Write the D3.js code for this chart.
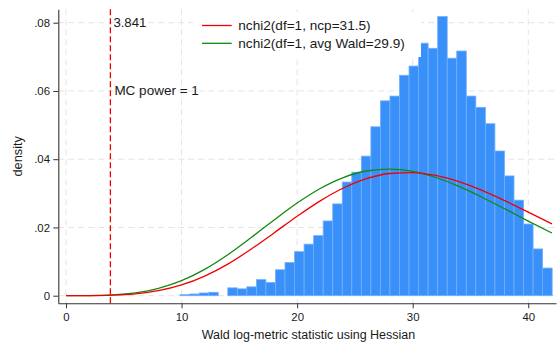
<!DOCTYPE html>
<html>
<head>
<meta charset="utf-8">
<script src="https://cdn.jsdelivr.net/npm/d3@7"></script>
<style>
  body { margin: 0; background: #fff; }
  svg { display: block; }
  text { font-family: "Liberation Sans", Arial, Helvetica, sans-serif; fill: #1a1a1a; }
</style>
</head>
<body>
<svg id="chart" width="560" height="343"></svg>
<script>
// ---- data -------------------------------------------------------------
// Histogram of the Wald log-metric statistic (density scale), equal-width bins
const binStart = 9.87;
const binWidth = 0.8256;
const binDensity = [
  0.0003, 0.0005, 0.0008, 0.0010, 0.0000, 0.0023, 0.0020, 0.0026, 0.0047, 0.0039,
  0.0076, 0.0097, 0.0129, 0.0151, 0.0176, 0.0219, 0.0269, 0.0333, 0.0362, 0.0409,
  0.0495, 0.0571, 0.0585, 0.0646, 0.0673, 0.0740, 0.0725, 0.0818, 0.0696, 0.0717,
  0.0585, 0.0552, 0.0504, 0.0424, 0.0351, 0.0280, 0.0210, 0.0137, 0.0081
];

// Noncentral chi-square densities, df = 1, sampled along the statistic
const curveX = [0, 1, 2, 4, 6, 8, 10, 12, 14, 16, 18, 20, 22, 24, 26, 28, 30, 32, 34, 36, 38, 40, 42.05];
const ncpDensity = [
  0, 0.000005, 0.000021, 0.000147, 0.000547, 0.001463, 0.003135, 0.005728, 0.009264, 0.013589,
  0.018396, 0.023278, 0.027800, 0.031567, 0.034288, 0.035804, 0.036088, 0.035227, 0.033402,
  0.030841, 0.027787, 0.024476, 0.021040
];
const waldDensity = [
  0, 0.000009, 0.000038, 0.000244, 0.000855, 0.002164, 0.004419, 0.007731, 0.012012, 0.016975,
  0.022188, 0.027162, 0.031429, 0.034629, 0.036544, 0.037114, 0.036419, 0.034639, 0.032029,
  0.028860, 0.025392, 0.021855, 0.018360
];
const seriesLabels = ["nchi2(df=1, ncp=31.5)", "nchi2(df=1, avg Wald=29.9)"];

// Critical value of chi2(1) at 5% and the simulated power
const criticalValue = 3.841;
const criticalLabel = "3.841";
const powerLabel = "MC power = 1";

// Axes
const xTicks = [0, 10, 20, 30, 40];
const yTicks = [0, 0.02, 0.04, 0.06, 0.08];
const yTickLabels = ["0", ".02", ".04", ".06", ".08"];
const xTitle = "Wald log-metric statistic using Hessian";
const yTitle = "density";

// ---- layout -----------------------------------------------------------
const svg = d3.select("#chart");
const plot = { left: 58.3, right: 556, top: 9.3, bottom: 303.3 };

const x = d3.scaleLinear().domain([-0.666, 42.4]).range([plot.left, plot.right]);
const y = d3.scaleLinear().domain([-0.00223, 0.08393]).range([plot.bottom, plot.top]);

const gridColor = "#e4e4e4";
const barFill = "#3990f9";
const barStroke = "#72b0fc";
const redColor = "#f00000";
const greenColor = "#0f8a0f";

// ---- grid -------------------------------------------------------------
const grid = svg.append("g");
grid.selectAll("line.h").data(yTicks).join("line")
  .attr("x1", plot.left).attr("x2", plot.right)
  .attr("y1", d => y(d)).attr("y2", d => y(d))
  .attr("stroke", gridColor).attr("stroke-width", 1).attr("stroke-dasharray", "6,4");
grid.selectAll("line.v").data(xTicks).join("line")
  .attr("x1", d => x(d)).attr("x2", d => x(d))
  .attr("y1", plot.top).attr("y2", plot.bottom)
  .attr("stroke", gridColor).attr("stroke-width", 1).attr("stroke-dasharray", "6,4");

// ---- histogram --------------------------------------------------------
const bins = binDensity.map((d, i) => ({
  x0: binStart + i * binWidth,
  x1: binStart + (i + 1) * binWidth,
  density: d
})).filter(b => b.density > 0);

svg.append("g").selectAll("rect").data(bins).join("rect")
  .attr("x", b => x(b.x0))
  .attr("width", b => x(b.x1) - x(b.x0))
  .attr("y", b => y(b.density))
  .attr("height", b => y(0) - y(b.density))
  .attr("fill", barFill)
  .attr("stroke", barStroke)
  .attr("stroke-width", 0.8);

// ---- density curves ---------------------------------------------------
const line = d3.line()
  .x(d => x(d[0]))
  .y(d => y(d[1]))
  .curve(d3.curveMonotoneX);

svg.append("path")
  .datum(curveX.map((v, i) => [v, waldDensity[i]]))
  .attr("d", line).attr("fill", "none")
  .attr("stroke", greenColor).attr("stroke-width", 1.3);
svg.append("path")
  .datum(curveX.map((v, i) => [v, ncpDensity[i]]))
  .attr("d", line).attr("fill", "none")
  .attr("stroke", redColor).attr("stroke-width", 1.3);

// ---- critical value line and annotations ------------------------------
svg.append("line")
  .attr("x1", x(criticalValue)).attr("x2", x(criticalValue))
  .attr("y1", plot.top).attr("y2", plot.bottom)
  .attr("stroke", redColor).attr("stroke-width", 1.3)
  .attr("stroke-dasharray", "6,3");

svg.append("text")
  .attr("x", x(criticalValue) + 3).attr("y", y(0.08))
  .attr("dominant-baseline", "central")
  .style("font-size", "13.2px")
  .text(criticalLabel);
svg.append("text")
  .attr("x", x(criticalValue) + 4).attr("y", y(0.06))
  .attr("dominant-baseline", "central")
  .style("font-size", "13.5px")
  .text(powerLabel);

// ---- axes -------------------------------------------------------------
const xAxis = svg.append("g")
  .attr("transform", `translate(0,${plot.bottom})`)
  .call(d3.axisBottom(x).tickValues(xTicks).tickSize(5).tickSizeOuter(0).tickPadding(5));
const yAxis = svg.append("g")
  .attr("transform", `translate(${plot.left},0)`)
  .call(d3.axisLeft(y).tickValues(yTicks).tickSize(5).tickSizeOuter(0).tickPadding(3.3)
    .tickFormat((d, i) => yTickLabels[i]));

[xAxis, yAxis].forEach(g => {
  g.select(".domain").attr("stroke", "#333").attr("stroke-width", 1.1);
  g.selectAll(".tick line").attr("stroke", "#333").attr("stroke-width", 1);
  g.selectAll(".tick text")
    .style("font-family", "'Liberation Sans', Arial, sans-serif")
    .style("font-size", "11.4px")
    .attr("fill", "#1a1a1a");
});

svg.append("text")
  .attr("x", 308.5).attr("y", 339)
  .attr("text-anchor", "middle")
  .style("font-size", "12.5px")
  .text(xTitle);

svg.append("text")
  .attr("transform", `translate(21.5,${(plot.top + plot.bottom) / 2}) rotate(-90)`)
  .attr("text-anchor", "middle")
  .style("font-size", "12.8px")
  .text(yTitle);

// ---- legend -----------------------------------------------------------
const legend = svg.append("g");
legend.append("rect")
  .attr("x", 193).attr("y", 12).attr("width", 228).attr("height", 45)
  .attr("fill", "#fff");
const legendItems = [
  { label: seriesLabels[0], color: redColor, yPos: 25.5 },
  { label: seriesLabels[1], color: greenColor, yPos: 43.3 }
];
legendItems.forEach(item => {
  legend.append("line")
    .attr("x1", 202).attr("x2", 231.7)
    .attr("y1", item.yPos).attr("y2", item.yPos)
    .attr("stroke", item.color).attr("stroke-width", 1.3);
  legend.append("text")
    .attr("x", 238.3).attr("y", item.yPos)
    .attr("dominant-baseline", "central")
    .style("font-size", "13.6px")
    .text(item.label);
});
</script>
</body>
</html>
